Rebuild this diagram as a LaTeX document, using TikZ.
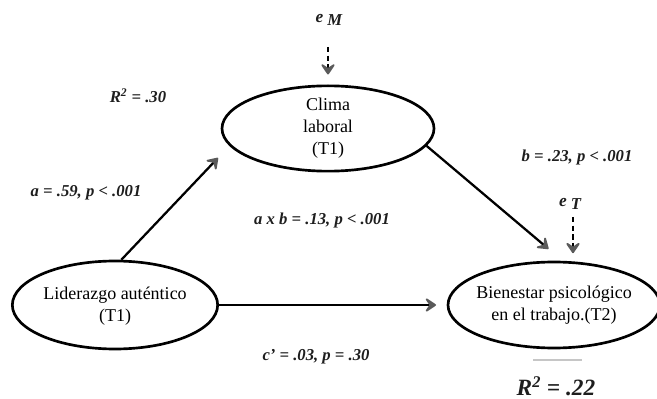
\documentclass[tikz,border=0pt]{standalone}
\usepackage{fontspec}
\setmainfont{Liberation Serif}
\usetikzlibrary{shapes.geometric,arrows.meta,calc}
\definecolor{tipgray}{HTML}{5A5A5A}
\definecolor{labelink}{HTML}{1E1E1E}
\tikzset{
  construct/.style={draw, ellipse, line width=2pt, inner sep=0pt},
  ctext/.style={align=center, font=\fontsize{13.5}{16.5}\selectfont},
  coef/.style={text=labelink, font=\fontsize{12.5}{14}\selectfont\bfseries\itshape, inner sep=0pt},
  rtwo/.style={text=labelink, font=\fontsize{17.5}{19}\selectfont\bfseries\itshape, inner sep=0pt},
  path/.style={line width=1.7pt, -{Stealth[length=10pt, width=13.5pt, inset=4.5pt, round, line width=1.6pt, color=tipgray]}},
  errpath/.style={path, line width=1.5pt, dash pattern=on 4pt off 2.5pt}
}
\newcommand{\errterm}[1]{{\fontsize{13}{14}\selectfont e}\hspace{3pt}\raisebox{-2.5pt}{#1}}
\begin{document}
\begin{tikzpicture}[x=0.75pt, y=-0.75pt]
  \useasboundingbox (0,0) rectangle (657,399);

  % latent constructs
  \node[construct, minimum width=159pt, minimum height=64pt,
        label={[ctext]center:Clima\\laboral\\(T1)}] (clima) at (328,128.5) {};
  \node[construct, minimum width=154pt, minimum height=66pt,
        label={[ctext, yshift=-1pt]center:Liderazgo auténtico\\(T1)}] (lider) at (115,305) {};
  \node[construct, minimum width=159pt, minimum height=64.5pt,
        label={[ctext]center:Bienestar psicológico\\en el trabajo.(T2)}] (bien) at (554,305) {};

  % error terms
  \node[coef] (eM) at (329,20) {\errterm{M}};
  \coordinate (eMtail) at (328,47);
  \node[coef] (eT) at (570,204) {\errterm{T}};
  \coordinate (eTtail) at (573,217);

  % paths
  \draw[path, shorten >=12.4pt] (lider.82) -- (clima.190);
  \draw[path, shorten >=13.8pt] (clima.-10) -- (bien.79);
  \draw[path, shorten >=8pt] (lider.east) -- (bien.west);
  \draw[errpath, shorten >=7.5pt] (eMtail) -- (clima.north);
  \draw[errpath, shorten >=5.6pt] (eTtail) -- (eTtail |- bien.north);

  % coefficients
  \node[coef] (rclima) at (138,96) {R\textsuperscript{2} = .30};
  \node[coef] (apath) at (86,193) {a = .59, p < .001};
  \node[coef] (bpath) at (577,157) {b = .23, p < .001};
  \node[coef] (ind) at (322,220) {a x b = .13, p < .001};
  \node[coef] (cpath) at (316,357) {c’ = .03, p = .30};
  \draw[gray!45, line width=1.6pt] (533,360) -- (582,360);
  \node[rtwo] (rbien) at (556,386) {R\textsuperscript{2} = .22};
\end{tikzpicture}
\end{document}
